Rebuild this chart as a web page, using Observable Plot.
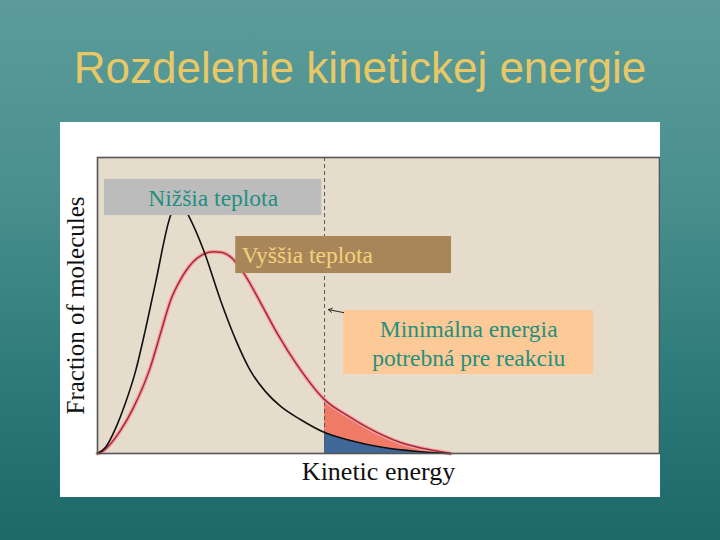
<!DOCTYPE html>
<html>
<head>
<meta charset="utf-8">
<script src="https://cdn.jsdelivr.net/npm/d3@7"></script>
<script src="https://cdn.jsdelivr.net/npm/@observablehq/plot@0.6"></script>
<style>
  html, body { margin: 0; padding: 0; }
  #slide {
    position: relative; width: 720px; height: 540px; overflow: hidden;
    background: linear-gradient(180deg, #5b9c9a 0%, #4a908f 35%, #2e7a7a 70%, #1d6868 100%);
  }
  #title {
    position: absolute; left: 0; width: 720px; top: 43px; line-height: 50px;
    text-align: center; font-family: "Liberation Sans", Arial, sans-serif;
    font-size: 44px; color: #e8c866;
  }
  #panel {
    position: absolute; left: 60px; top: 122px; width: 600px; height: 375px; background: #ffffff;
  }
</style>
</head>
<body>
<div id="slide">
  <div id="title">Rozdelenie kinetickej energie</div>
  <div id="panel"></div>
</div>
<script>
// ---- data (energy in arbitrary units 0-100, fraction of molecules 0-100) ----
const lowEnergy  = [0, 1.4, 3.2, 5.0, 6.8, 8.5, 10.3, 13.0, 14.6, 16.2, 18.9, 21.9, 24.6, 27.2, 29.9, 32.6, 36.1, 40.4, 45.0, 50.9, 56.9, 62.8];
const lowFrac    = [0, 2.0, 8.4, 17.2, 28.0, 41.6, 57.4, 80.4, 85.5, 80.4, 68.6, 51.7, 38.4, 28.0, 20.9, 15.9, 11.5, 7.1, 4.4, 2.0, 0.7, 0];

const highEnergy = [0, 0.5, 4.1, 6.4, 9.4, 11.2, 13.0, 14.8, 16.9, 18.7, 20.5, 22.2, 24.0, 26.3, 29.0, 32.0, 35.6, 40.4, 45.0, 48.0, 53.9, 59.8, 62.8];
const highFrac   = [0, 0.3, 7.8, 15.5, 29.1, 40.5, 51.7, 58.8, 64.5, 67.2, 68.2, 67.9, 65.9, 60.1, 51.0, 40.5, 29.7, 18.2, 12.2, 8.8, 3.7, 1.0, 0];

const threshold = 40.4;

const labelTexts = ["Nižšia teplota", "Vyššia teplota", "Minimálna energia\npotrebná pre reakciu"];
const labelX1 = [1.25, 24.6, 43.8];
const labelX2 = [39.9, 63.0, 88.3];
const labelY1 = [80.4, 60.8, 26.7];
const labelY2 = [92.6, 73.3, 48.3];
const labelFill = ["#bcbcbc", "#a9855a", "#fdc996"];
const labelColor = ["#23907f", "#f3d27a", "#23907f"];

const arrowFrom = [43.8, 47.6];
const arrowTo = [41.1, 48.6];

const xLabel = "Kinetic energy";
const yLabel = "Fraction of molecules";

// ---- tables ----
const low = lowEnergy.map((x, i) => ({x, y: lowFrac[i]}));
const high = highEnergy.map((x, i) => ({x, y: highFrac[i]}));
const labels = labelTexts.map((t, i) => ({
  text: t, x1: labelX1[i], x2: labelX2[i], y1: labelY1[i], y2: labelY2[i],
  fill: labelFill[i], color: labelColor[i]
}));
const centered = labels.filter(d => !d.text.startsWith("Vy"));
const leftAligned = labels.filter(d => d.text.startsWith("Vy"));
const serif = "'Liberation Serif', 'DejaVu Serif', serif";
const curve = "monotone-x";

const chart = Plot.plot({
  width: 600, height: 375,
  marginLeft: 37, marginRight: 1, marginTop: 35, marginBottom: 44,
  style: {background: "#ffffff", fontFamily: serif},
  x: {domain: [0, 100], axis: null},
  y: {domain: [0, 100], axis: null},
  marks: [
    Plot.frame({fill: "#e5dccb", stroke: null}),
    Plot.areaY(high.filter(d => d.x >= threshold), {x: "x", y: "y", fill: "#ef7b66", curve}),
    Plot.areaY(low.filter(d => d.x >= threshold), {x: "x", y: "y", fill: "#3f6899", curve}),
    Plot.ruleX([threshold], {stroke: "#555", strokeWidth: 1, strokeDasharray: "4,3"}),
    Plot.line(high, {x: "x", y: "y", stroke: "#f3a4a4", strokeWidth: 4, curve}),
    Plot.line(high, {x: "x", y: "y", stroke: "#a8283a", strokeWidth: 1.5, curve}),
    Plot.line(low, {x: "x", y: "y", stroke: "#111", strokeWidth: 1.6, curve}),
    Plot.rect(labels, {x1: "x1", x2: "x2", y1: "y1", y2: "y2", fill: d => d.fill}),
    Plot.text(centered, {
      x: d => (d.x1 + d.x2) / 2, y: d => (d.y1 + d.y2) / 2,
      text: "text", fill: d => d.color, fontSize: 23.5, lineHeight: 1.2, fontFamily: serif
    }),
    Plot.text(leftAligned, {
      x: "x1", y: d => (d.y1 + d.y2) / 2, dx: 6, textAnchor: "start",
      text: "text", fill: d => d.color, fontSize: 23.5, fontFamily: serif
    }),
    Plot.arrow([{x1: arrowFrom[0], y1: arrowFrom[1], x2: arrowTo[0], y2: arrowTo[1]}],
      {x1: "x1", y1: "y1", x2: "x2", y2: "y2", stroke: "#222", strokeWidth: 1, headLength: 6, bend: 0}),
    Plot.frame({stroke: "#555", strokeWidth: 1.6}),
    Plot.text([xLabel], {text: d => d, frameAnchor: "bottom", dy: 26, fontSize: 26, fill: "#111", fontFamily: serif}),
    Plot.text([yLabel], {text: d => d, frameAnchor: "left", textAnchor: "middle", dx: -22, rotate: -90, fontSize: 25, fill: "#111", fontFamily: serif})
  ]
});
document.getElementById("panel").appendChild(chart);
</script>
</body>
</html>
